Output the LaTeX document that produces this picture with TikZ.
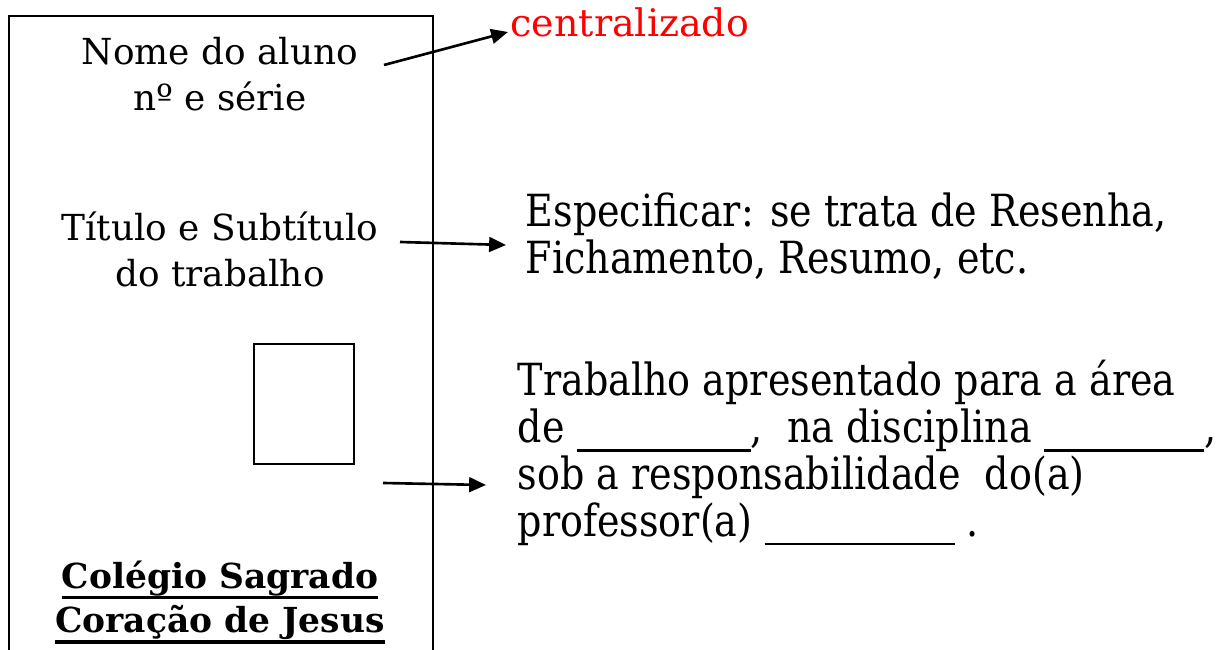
\documentclass[tikz,border=0pt]{standalone}
\usepackage{fontspec}
\setmainfont{DejaVu Serif}
\newfontfamily\narrowfont[FakeStretch=0.86]{DejaVu Serif}
\usepackage{xcolor}
\usetikzlibrary{positioning,calc,arrows.meta}

\newcommand{\blankline}[1]{\rule[-2.5pt]{#1}{0.6pt}}
\newcommand{\thickul}[1]{\setbox0\hbox{#1}\rlap{\rule[-3.2pt]{\wd0}{0.9pt}}\box0}

\tikzset{
    pointer/.style={line width=0.75pt, -{Triangle[length=4.8pt,width=4.2pt]}},
    lefttext/.style={align=center, font=\fontsize{10.2}{13.1}\selectfont, inner sep=0pt},
    righttext/.style={align=left, font=\narrowfont\fontsize{12.6}{13.3}\selectfont, inner sep=0pt},
}

\begin{document}
\begin{tikzpicture}
    \useasboundingbox (0,0) rectangle (12.29,-6.5);
    % page outline, open at the bottom
    \draw [line width=0.6pt] (0.09,-6.5) -- (0.09,-0.16) -- (4.33,-0.16) -- (4.33,-6.5);
    \draw [line width=0.6pt] (2.54,-3.44) rectangle (3.54,-4.64); % photo

    % texts inside the page
    \node [lefttext] (aluno) at (2.2,-0.74) {Nome do aluno\\nº e série};
    \node [lefttext] (titulo) at (2.2,-2.49) {Título e Subtítulo\\do trabalho};
    \node [lefttext, font=\bfseries\fontsize{9.8}{12.6}\selectfont] (colegio) at (2.2,-6.02)
        {\thickul{Colégio Sagrado}\\\thickul{Coração de Jesus}};

    % notes on the right
    \node [anchor=west, inner sep=0pt, text=red, font=\fontsize{10.8}{13}\selectfont] (central) at (5.10,-0.22) {centralizado};
    \node [righttext, anchor=west] (especificar) at (5.25,-2.36)
        {Especificar: se trata de Resenha,\\Fichamento, Resumo, etc.};
    \node [righttext, anchor=west] (apresentado) at (5.17,-4.53)
        {Trabalho apresentado para a área\\
         de \blankline{1.74cm},~~na disciplina \blankline{1.6cm},\\
         sob a responsabilidade~~do(a)\\
         professor(a) \blankline{1.9cm} .};

    % arrows
    \coordinate (a1) at (3.84,-0.65);
    \coordinate (a2) at (4.00,-2.42);
    \coordinate (a3) at (3.83,-4.83);
    \draw [pointer] (a1) -- ($(central.west)+(-0.02,-0.10)$);
    \draw [pointer] (a2) -- ($(especificar.west)+(-0.19,-0.09)$);
    \draw [pointer] (a3) -- ($(apresentado.west)+(-0.31,-0.32)$);
\end{tikzpicture}
\end{document}
